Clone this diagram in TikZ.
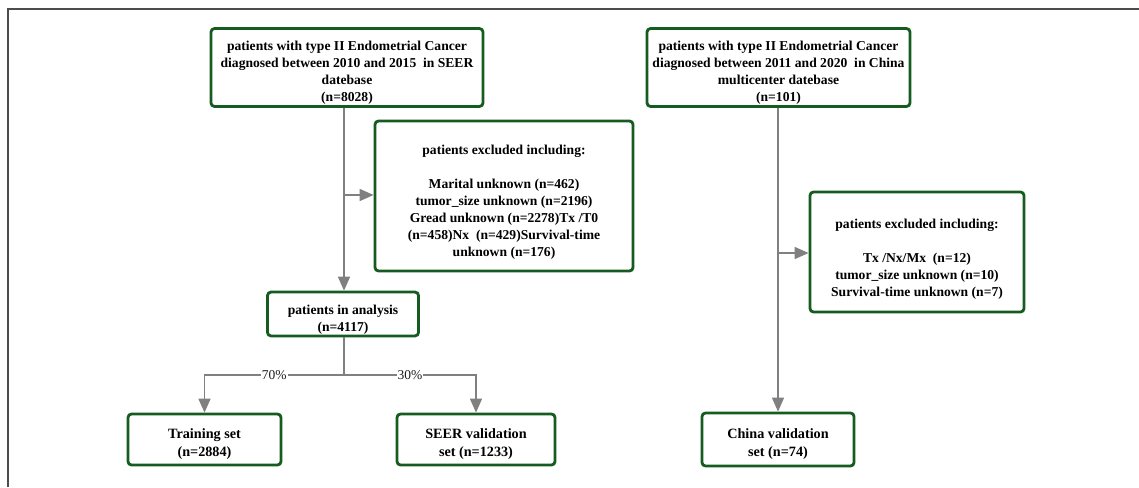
\documentclass[tikz,border=0pt]{standalone}
\usepackage{fontspec}
\setmainfont{Liberation Serif}
\usetikzlibrary{arrows.meta}
\definecolor{boxgreen}{RGB}{22,92,32}
\definecolor{arrgray}{RGB}{128,128,128}
\newcommand\tgap{\rule{0pt}{20pt}}
\begin{document}
\begin{tikzpicture}[x=1pt,y=-1pt,
  box/.style={draw=boxgreen, line width=2.8pt, rounded corners=3.5pt, fill=white,
    align=center, inner xsep=0pt, inner ysep=2pt, font=\bfseries\fontsize{13.6}{17}\selectfont},
  bigbox/.style={box, font=\bfseries\fontsize{14.2}{18}\selectfont},
  arr/.style={draw=arrgray, line width=1.6pt, -{Triangle[length=14pt,width=12pt]}},
  ln/.style={draw=arrgray, line width=1.6pt},
  lbl/.style={fill=white, inner sep=1pt, text=black!88, font=\fontsize{13.5}{15}\selectfont}
]
\useasboundingbox (0,0) rectangle (1139,487);
\draw[line width=1.4pt, black!70] (8,487) -- (8,9) -- (1139,9);

% left column
\node[box, minimum width=272pt, minimum height=67pt] (seer) at (347,67.5)
  {\tgap patients with type II Endometrial Cancer\\diagnosed between 2010 and 2015~ in SEER\\datebase\\(n=8028)};
\node[box, minimum width=258pt, minimum height=150pt] (ex1) at (504,196)
  {\rule{0pt}{22pt}patients excluded including:\\[16.5pt]
   Marital unknown (n=462)\\tumor\_size unknown (n=2196)\\Gread unknown (n=2278)Tx /T0\\(n=458)Nx~ (n=429)Survival-time\\unknown (n=176)};
\node[box, minimum width=151pt, minimum height=42pt] (an) at (343,314)
  {\tgap patients in analysis\\(n=4117)};
\node[bigbox, minimum width=153pt, minimum height=51pt] (tr) at (204.5,439.5)
  {\tgap Training set\\(n=2884)};
\node[bigbox, minimum width=158pt, minimum height=51pt] (sv) at (476,439.5)
  {\tgap SEER validation\\set (n=1233)};

% right column
\node[box, minimum width=263pt, minimum height=67pt] (cn) at (778.5,67.5)
  {\tgap patients with type II Endometrial Cancer\\diagnosed between 2011 and 2020~ in China\\multicenter datebase\\(n=101)};
\node[box, minimum width=214pt, minimum height=120pt] (ex2) at (917,252)
  {\rule{0pt}{24pt}patients excluded including:\\[16.5pt]
   Tx /Nx/Mx~ (n=12)\\tumor\_size unknown (n=10)\\Survival-time unknown (n=7)};
\node[bigbox, minimum width=152pt, minimum height=53pt] (cv) at (778,439.5)
  {\tgap China validation\\set (n=74)};

% connectors left
\coordinate (b1) at (344,195);
\draw[arr] (seer.south -| b1) -- (an.north -| b1);
\draw[arr] (b1) -- (b1 -| ex1.west);
\coordinate (sp) at (344,375);
\draw[ln] (an.south -| sp) -- (sp);
\draw[arr] (sp) -- node[lbl]{70\%} (sp -| tr.north) -- (tr.north);
\draw[arr] (sp) -- node[lbl]{30\%} (sp -| sv.north) -- (sv.north);

% connectors right
\coordinate (b2) at (778,253);
\draw[arr] (cn.south -| b2) -- (cv.north -| b2);
\draw[arr] (b2) -- (b2 -| ex2.west);
\end{tikzpicture}
\end{document}
